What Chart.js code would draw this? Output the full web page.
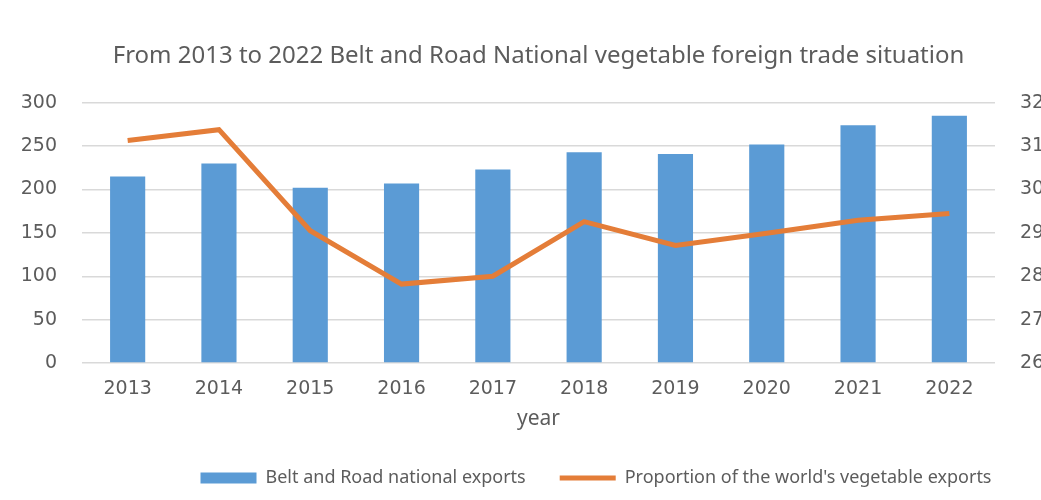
<!DOCTYPE html>
<html>
<head>
<meta charset="utf-8">
<script src="https://cdn.jsdelivr.net/npm/chart.js@4"></script>
<style>
  html, body { margin: 0; padding: 0; background: #fff; overflow: hidden; }
  #wrap { width: 1041px; height: 500px; overflow: hidden; position: relative; }
  #box { width: 1192px; height: 500px; position: absolute; left: 0; top: 0; }
</style>
</head>
<body>
<div id="wrap"><div id="box"><canvas id="chart"></canvas></div></div>
<script>
const years = ["2013", "2014", "2015", "2016", "2017", "2018", "2019", "2020", "2021", "2022"]
const exportsValues = [215, 230, 202, 207, 223, 243, 241, 252, 274, 285]
const shareValues = [31.13, 31.38, 29.05, 27.82, 28.0, 29.26, 28.71, 28.99, 29.29, 29.45]
const leftTicks = [0, 50, 100, 150, 200, 250, 300]
const rightTicks = [26, 27, 28, 29, 30, 31, 32]

const TEXT = "#5c5c5c"
const GRID = "#d9d9d9"
const BLUE = "#5b9bd5"
const ORANGE = "#e47d38"

const tickFont = { family: "DejaVu Sans", size: 19 }

new Chart(document.getElementById("chart"), {
  data: {
    labels: years,
    datasets: [
      {
        type: "line",
        label: "Proportion of the world's vegetable exports",
        data: shareValues,
        yAxisID: "y1",
        borderColor: ORANGE,
        backgroundColor: ORANGE,
        borderWidth: 5,
        pointRadius: 0,
        pointStyle: "line",
        tension: 0,
        order: 1,
      },
      {
        type: "bar",
        label: "Belt and Road national exports",
        data: exportsValues,
        yAxisID: "y",
        backgroundColor: BLUE,
        borderWidth: 0,
        pointStyle: "rect",
        barPercentage: 0.385,
        categoryPercentage: 1,
        order: 2,
      },
    ],
  },
  options: {
    animation: false,
    responsive: true,
    maintainAspectRatio: false,
    layout: { padding: { bottom: 3 } },
    plugins: {
      title: {
        display: true,
        fullSize: false,
        text: "From 2013 to 2022 Belt and Road National vegetable foreign trade situation",
        color: TEXT,
        font: { family: "Noto Sans", size: 24, weight: "normal" },
        padding: { top: 42, bottom: 32 },
      },
      legend: {
        position: "bottom",
        reverse: true,
        labels: {
          color: TEXT,
          font: { family: "Noto Sans", size: 18 },
          usePointStyle: true,
          pointStyleWidth: 56,
          boxHeight: 11,
          padding: 34,
        },
      },
      tooltip: { enabled: false },
    },
    scales: {
      x: {
        afterFit: (axis) => {
          axis.height = 72
        },
        grid: { display: false, drawTicks: false },
        border: { display: false },
        ticks: { color: TEXT, font: tickFont, padding: 15, maxRotation: 0 },
        title: {
          display: true,
          text: "year",
          color: TEXT,
          font: { family: "Noto Sans", size: 21 },
          padding: { top: 0, bottom: 3 },
        },
      },
      y: {
        position: "left",
        min: 0,
        max: 300,
        afterBuildTicks: (axis) => {
          axis.ticks = leftTicks.map((v) => ({ value: v }))
        },
        afterFit: (axis) => {
          axis.width = 82
        },
        grid: { color: GRID, lineWidth: 1.5, drawTicks: false },
        border: { display: false },
        ticks: { color: TEXT, font: tickFont, padding: 25 },
      },
      y1: {
        position: "right",
        min: 26,
        max: 32,
        afterBuildTicks: (axis) => {
          axis.ticks = rightTicks.map((v) => ({ value: v }))
        },
        afterFit: (axis) => {
          axis.width = 197
        },
        grid: { drawOnChartArea: false, drawTicks: false },
        border: { display: false },
        ticks: { color: TEXT, font: tickFont, padding: 25 },
      },
    },
  },
})
</script>
</body>
</html>
